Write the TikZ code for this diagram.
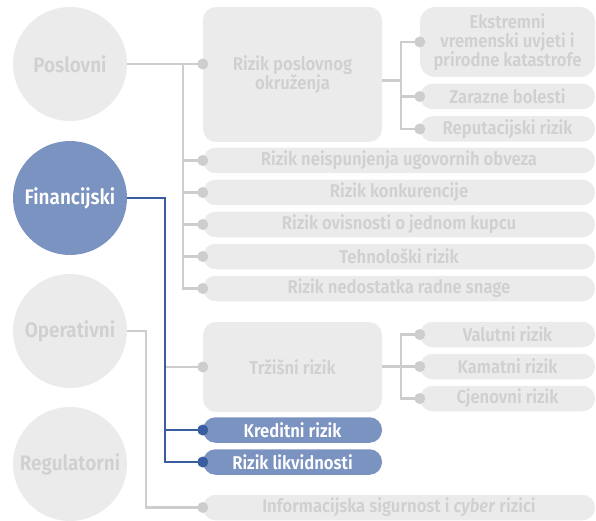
\documentclass[tikz,border=0pt]{standalone}
\usepackage{fontspec}
\setmainfont{Fira Sans}[FakeStretch=0.9,BoldFont={Fira Sans SemiBold},BoldItalicFont={Fira Sans SemiBold Italic}]
\definecolor{gfill}{HTML}{EBEBEB}
\definecolor{gtext}{HTML}{D0D0D0}
\definecolor{gline}{HTML}{CDCDCD}
\definecolor{bfill}{HTML}{7B93C0}
\definecolor{bline}{HTML}{3A5DA0}
\tikzset{
  base/.style={font=\fontsize{18.5}{19}\selectfont\bfseries, align=center, inner sep=0pt},
  cat/.style={base, circle, minimum size=114pt, fill=gfill, text=gtext, font=\fontsize{21}{22}\selectfont\bfseries},
  catb/.style={cat, fill=bfill, text=white},
  bigbox/.style={base, rounded corners=13pt, fill=gfill, text=gtext, minimum width=179pt},
  pill/.style={base, rounded corners=12.5pt, fill=gfill, text=gtext, minimum height=25.5pt},
  bpill/.style={pill, fill=bfill, text=white},
  gl/.style={draw=gline, line width=2.6pt},
  bl/.style={draw=bline, line width=2.4pt},
  gdot/.style={fill=gline, draw=none},
  bdot/.style={fill=bline, draw=none},
}
\begin{document}
\begin{tikzpicture}[x=1pt,y=-1pt]
\useasboundingbox (0,0) rectangle (596,521);
% categories
\node[cat]  (P) at (70,64)  {Poslovni};
\node[catb] (F) at (70,198) {Financijski};
\node[cat]  (O) at (70,331) {Operativni};
\node[cat]  (R) at (70,464) {Regulatorni};
% poslovni boxes
\node[bigbox, minimum height=135pt] (okr) at (292.5,74.5) {Rizik poslovnog\\okruženja};
\node[pill, rounded corners=15pt, minimum width=175pt, minimum height=70pt] (e1) at (507.5,42) {Ekstremni\\vremenski uvjeti i\\prirodne katastrofe};
\node[pill, minimum width=175pt] (e2) at (507.5,96.5) {Zarazne bolesti};
\node[pill, minimum width=175pt] (e3) at (507.5,129) {Reputacijski rizik};
\node[pill, minimum width=392pt] (p1) at (399,160.5) {Rizik neispunjenja ugovornih obveza};
\node[pill, minimum width=392pt] (p2) at (399,192.5) {Rizik konkurencije};
\node[pill, minimum width=392pt] (p3) at (399,224.5) {Rizik ovisnosti o jednom kupcu};
\node[pill, minimum width=392pt] (p4) at (399,256.5) {Tehnološki rizik};
\node[pill, minimum width=392pt] (p5) at (399,288.5) {Rizik nedostatka radne snage};
% financijski boxes
\node[bigbox, minimum height=90pt] (trz) at (292.5,367) {Tržišni rizik};
\node[pill, minimum width=175pt] (t1) at (507.5,334.5) {Valutni rizik};
\node[pill, minimum width=175pt] (t2) at (507.5,366.5) {Kamatni rizik};
\node[pill, minimum width=175pt] (t3) at (507.5,398.5) {Cjenovni rizik};
\node[bpill, minimum width=179pt] (kr) at (292.5,430) {Kreditni rizik};
\node[bpill, minimum width=179pt] (lk) at (292.5,462) {Rizik likvidnosti};
% operativni
\node[pill, minimum width=392pt] (inf) at (399,507.5) {Informacijska sigurnost i \textit{cyber} rizici};
% junctions
\coordinate (pv) at (183,64);
\coordinate (okj) at (401,80.7);
\coordinate (fv) at (165,198);
\coordinate (tj) at (401,366.5);
\coordinate (ov) at (146,331);
% poslovni connectors
\draw[gl] (P.east) -- (P.east -| okr.west);
\draw[gl] (pv) |- (p1.west);
\draw[gl] (pv) |- (p2.west);
\draw[gl] (pv) |- (p3.west);
\draw[gl] (pv) |- (p4.west);
\draw[gl] (pv) |- (p5.west);
\draw[gl] (okr.east |- okj) -- (okj);
\draw[gl] (okj) |- (e1.west);
\draw[gl] (okj) |- (e2.west);
\draw[gl] (okj) |- (e3.west);
\fill[gdot] (P.east -| okr.west) circle (5.5pt);
\foreach \n in {p1,p2,p3,p4,p5,e1,e2,e3} \fill[gdot] (\n.west) circle (5.5pt);
% financijski connectors
\draw[gl] (fv |- trz.west) -- (trz.west);
\draw[gl] (trz.east |- tj) -- (tj);
\draw[gl] (tj) |- (t1.west);
\draw[gl] (tj) |- (t2.west);
\draw[gl] (tj) |- (t3.west);
\foreach \n in {trz,t1,t2,t3} \fill[gdot] (\n.west) circle (5.5pt);
\draw[bl] (F.east) -- (fv) |- (lk.west);
\draw[bl] (fv) |- (kr.west);
\foreach \n in {kr,lk} \fill[bdot] (\n.west) circle (5.5pt);
% operativni connector
\draw[gl] (O.east) -- (ov) |- (inf.west);
\fill[gdot] (inf.west) circle (5.5pt);
\end{tikzpicture}
\end{document}
